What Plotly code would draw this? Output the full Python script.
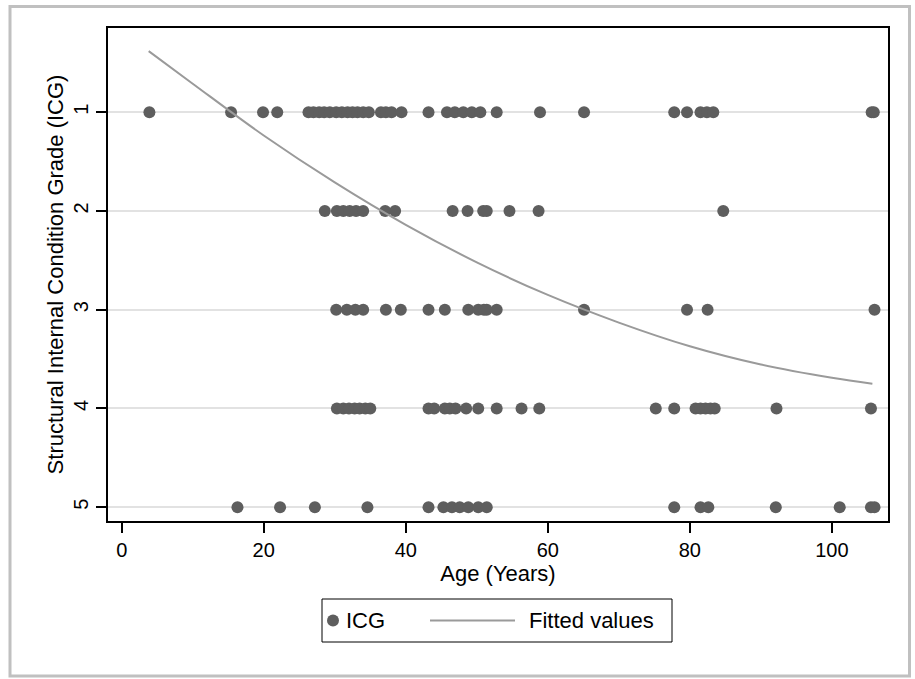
import plotly.graph_objects as go

# ICG observations: age (years) for each grade
age_g1 = [3.9, 15.4, 19.9, 21.9, 26.3, 27.0, 27.8, 28.5, 29.3, 30.2, 31.0, 31.8, 32.5, 33.2,
          34.0, 34.8, 36.5, 37.2, 38.0, 39.4, 43.2, 45.8, 46.9, 48.1, 49.3, 50.5, 52.8, 58.9,
          65.1, 77.8, 79.6, 81.5, 82.4, 83.3, 105.6, 105.9]
age_g2 = [28.6, 30.3, 31.2, 32.1, 33.0, 34.0, 37.1, 38.5, 46.6, 48.7, 50.9, 51.4, 54.6, 58.7, 84.7]
age_g3 = [30.2, 31.7, 32.9, 34.0, 37.2, 39.3, 43.2, 45.5, 48.8, 50.2, 51.0, 51.4, 52.8, 65.1,
          79.6, 82.5, 106.0]
age_g4 = [30.3, 31.2, 32.0, 32.8, 33.5, 34.3, 35.0, 43.2, 44.0, 45.5, 46.2, 47.0, 48.5, 50.2,
          52.8, 56.3, 58.8, 75.2, 77.8, 80.8, 81.5, 82.2, 82.9, 83.5, 92.2, 105.5]
age_g5 = [16.3, 22.3, 27.2, 34.6, 43.2, 45.3, 46.5, 47.6, 48.8, 50.2, 51.4, 77.8, 81.5, 82.6,
          92.1, 101.1, 105.5, 106.0]
grades = [1, 2, 3, 4, 5]

# Fitted values
fit_age = [3.8, 10, 20, 30, 40, 50, 60, 70, 80, 90, 100, 105.7]
fit_val = [0.38, 0.71, 1.235, 1.71, 2.14, 2.52, 2.85, 3.13, 3.37, 3.555, 3.69, 3.75]

x_ticks = [0, 20, 40, 60, 80, 100]
y_ticks = [1, 2, 3, 4, 5]
legend_labels = ["ICG", "Fitted values"]

xs, ys = [], []
for g, ages in zip(grades, [age_g1, age_g2, age_g3, age_g4, age_g5]):
    xs += ages
    ys += [g] * len(ages)

FONT = "Arial, Liberation Sans, sans-serif"
DOT = "#5e5e5e"
LINE = "#9a9a9a"

fig = go.Figure()
fig.add_trace(go.Scatter(x=xs, y=ys, mode="markers", name=legend_labels[0],
                         marker=dict(size=12, color=DOT, line=dict(width=0))))
fig.add_trace(go.Scatter(x=fit_age, y=fit_val, mode="lines", name=legend_labels[1],
                         line=dict(color=LINE, width=2, shape="spline")))

# plot area: x 108..888, y 28..521 (px)
L, R, T, B = 108, 888, 28, 521
W, H = 915, 679
pw, ph = R - L, B - T
def px(x):
    return (x - L) / pw
def py(y):
    return (B - y) / ph

shapes = [
    # outer graph-region border
    dict(type="rect", xref="paper", yref="paper", x0=px(10), x1=px(909.5),
         y0=py(676), y1=py(6.5), line=dict(color="#c0c0c0", width=3), layer="below"),
    # legend box
    dict(type="rect", xref="paper", yref="paper", x0=px(322), x1=px(672),
         y0=py(642), y1=py(599), line=dict(color="black", width=1), fillcolor="white"),
    # legend marker
    dict(type="circle", xref="paper", yref="paper", x0=px(327), x1=px(339),
         y0=py(626.5), y1=py(614.5), line=dict(width=0), fillcolor=DOT),
    # legend line
    dict(type="line", xref="paper", yref="paper", x0=px(430), x1=px(515),
         y0=py(620.5), y1=py(620.5), line=dict(color=LINE, width=2)),
]
annotations = [
    dict(text=legend_labels[0], xref="paper", yref="paper", x=px(344), y=py(620.5),
         xanchor="left", yanchor="middle", showarrow=False, font=dict(size=22)),
    dict(text=legend_labels[1], xref="paper", yref="paper", x=px(527), y=py(620.5),
         xanchor="left", yanchor="middle", showarrow=False, font=dict(size=22)),
]

fig.update_layout(
    width=W, height=H,
    margin=dict(l=L, r=W - R, t=T, b=H - B, pad=0),
    paper_bgcolor="white", plot_bgcolor="white",
    font=dict(family=FONT, color="black", size=20),
    showlegend=False,
    shapes=shapes,
    annotations=annotations,
)
fig.update_xaxes(range=[-1.93, 107.9], tickvals=x_ticks, ticks="outside", ticklen=10,
                 tickcolor="black", tickwidth=1.5, showgrid=False, zeroline=False,
                 showline=True, linecolor="black", linewidth=1.5, mirror=True,
                 tickfont=dict(size=20),
                 title=dict(text="Age (Years)", font=dict(size=22), standoff=4))
fig.update_yaxes(range=[5.14, 0.146], tickvals=y_ticks, ticks="outside", ticklen=10,
                 tickcolor="black", tickwidth=1.5, showgrid=True, gridcolor="#e2e2e2",
                 gridwidth=2, zeroline=False, showline=True, linecolor="black",
                 linewidth=1.5, mirror=True, tickangle=-90, tickfont=dict(size=20),
                 title=dict(text="Structural Internal Condition Grade (ICG)",
                            font=dict(size=22), standoff=1))

fig.write_html("out.html", config={"displayModeBar": False},
               post_script="document.body.style.margin='0';")
